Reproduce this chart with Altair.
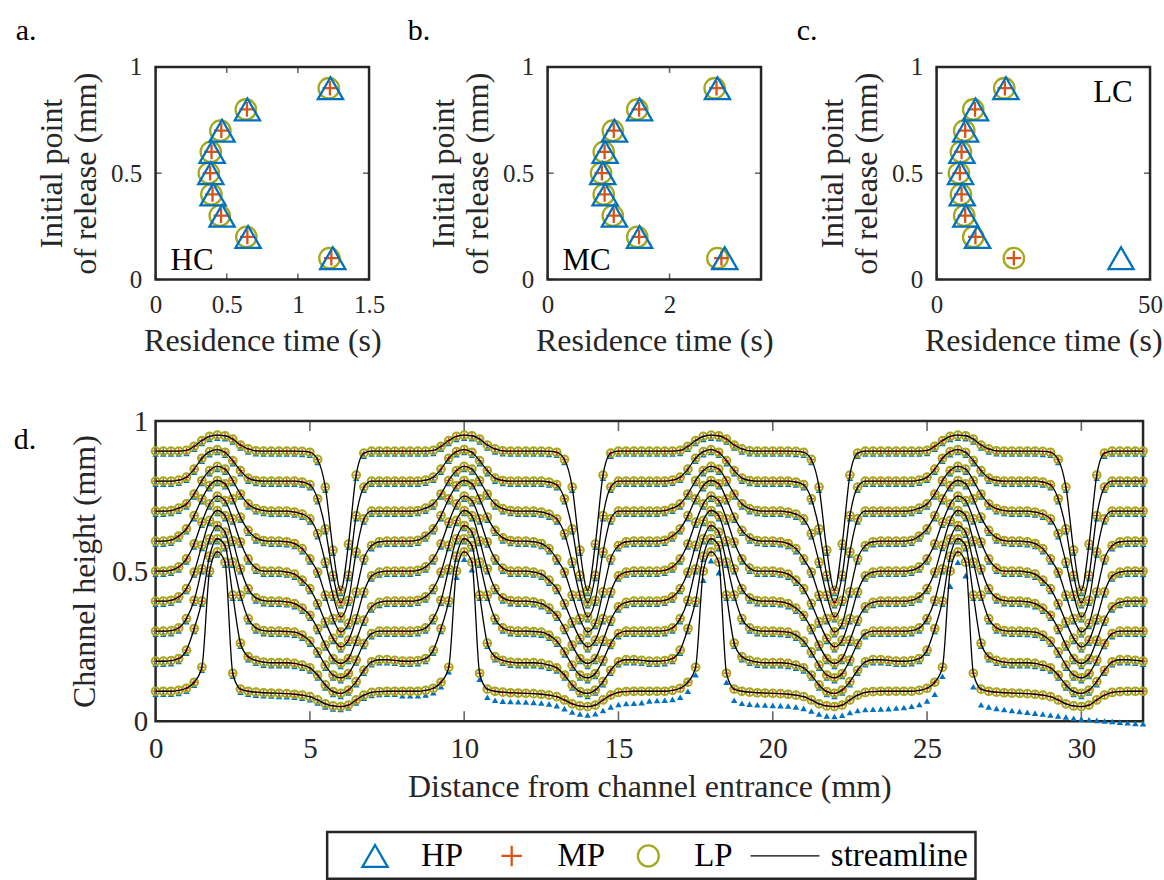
import altair as alt
import pandas as pd

FONT = "Liberation Serif"
INK = "#262626"
BLUE = "#0072BD"
ORANGE = "#D95319"
OLIVE = "#A4A81C"
PLUS = "M-1,0L1,0M0,-1L0,1"

# ---------------- panels a-c: residence time vs release point ----------------
release = [0.1, 0.2, 0.3, 0.4, 0.5, 0.6, 0.7, 0.8, 0.9]

hc_hp = [1.245, 0.650, 0.467, 0.404, 0.388, 0.397, 0.467, 0.645, 1.229]
hc_mp = [1.235, 0.645, 0.460, 0.400, 0.383, 0.393, 0.462, 0.642, 1.225]
hc_lp = [1.222, 0.638, 0.451, 0.392, 0.374, 0.388, 0.455, 0.634, 1.217]

mc_hp = [2.905, 1.508, 1.096, 0.943, 0.904, 0.943, 1.096, 1.508, 2.785]
mc_mp = [2.850, 1.500, 1.085, 0.935, 0.890, 0.935, 1.085, 1.500, 2.770]
mc_lp = [2.785, 1.470, 1.069, 0.921, 0.877, 0.921, 1.069, 1.470, 2.740]

lc_hp = [43.2, 9.60, 6.86, 6.00, 5.62, 5.93, 6.80, 9.13, 16.24]
lc_mp = [18.1, 9.10, 6.70, 5.85, 5.45, 5.85, 6.70, 9.00, 16.00]
lc_lp = [18.1, 8.58, 6.47, 5.70, 5.23, 5.70, 6.47, 8.58, 15.85]

y_ticks = [0, 0.5, 1]
a_xticks = [0, 0.5, 1, 1.5]
b_xticks = [0, 2]
c_xticks = [0, 50]

# ---------------- panel d: streamlines through the channel ----------------
# sample positions inside one 8 mm period of the channel (mm)
period_x = [0, 0.25, 0.5, 0.75, 1, 1.25, 1.5, 1.75, 2, 2.25, 2.5, 2.75,
            3, 3.25, 3.5, 3.75, 4, 4.25, 4.5, 4.75, 5, 5.25, 5.5, 5.75,
            6, 6.25, 6.5, 6.75, 7, 7.25, 7.5, 7.75]
period_starts = [0, 8, 16, 24]
channel_end = 32

s09 = [0.900, 0.900, 0.900, 0.900, 0.902, 0.916, 0.935, 0.949, 0.953, 0.951, 0.940, 0.920,
       0.907, 0.901, 0.900, 0.900, 0.900, 0.900, 0.900, 0.899, 0.896, 0.872, 0.780, 0.570,
       0.436, 0.590, 0.820, 0.893, 0.900, 0.900, 0.900, 0.900]
s08 = [0.800, 0.800, 0.800, 0.803, 0.813, 0.840, 0.876, 0.898, 0.905, 0.896, 0.868, 0.835,
       0.810, 0.802, 0.800, 0.800, 0.800, 0.800, 0.800, 0.797, 0.788, 0.741, 0.641, 0.486,
       0.395, 0.486, 0.685, 0.780, 0.800, 0.800, 0.800, 0.800]
s07 = [0.700, 0.700, 0.702, 0.710, 0.724, 0.757, 0.802, 0.835, 0.849, 0.840, 0.802, 0.757,
       0.724, 0.708, 0.702, 0.700, 0.700, 0.700, 0.697, 0.690, 0.674, 0.625, 0.530, 0.420,
       0.348, 0.403, 0.564, 0.674, 0.700, 0.700, 0.700, 0.700]
s06 = [0.600, 0.600, 0.603, 0.617, 0.641, 0.685, 0.741, 0.785, 0.802, 0.791, 0.741, 0.680,
       0.636, 0.611, 0.602, 0.600, 0.600, 0.598, 0.592, 0.575, 0.541, 0.497, 0.420, 0.342,
       0.298, 0.326, 0.431, 0.541, 0.585, 0.598, 0.600, 0.600]
s05 = [0.500, 0.500, 0.503, 0.514, 0.541, 0.591, 0.663, 0.724, 0.750, 0.735, 0.674, 0.597,
       0.541, 0.510, 0.500, 0.500, 0.500, 0.497, 0.490, 0.470, 0.442, 0.392, 0.331, 0.276,
       0.248, 0.270, 0.342, 0.431, 0.484, 0.497, 0.500, 0.500]
s04 = [0.400, 0.400, 0.403, 0.414, 0.442, 0.497, 0.586, 0.669, 0.702, 0.685, 0.602, 0.508,
       0.442, 0.411, 0.402, 0.400, 0.400, 0.398, 0.392, 0.377, 0.353, 0.309, 0.254, 0.209,
       0.193, 0.209, 0.270, 0.337, 0.381, 0.396, 0.400, 0.400]
s03 = [0.300, 0.300, 0.302, 0.311, 0.342, 0.403, 0.508, 0.608, 0.652, 0.630, 0.530, 0.420,
       0.342, 0.311, 0.302, 0.300, 0.300, 0.299, 0.297, 0.287, 0.267, 0.231, 0.187, 0.154,
       0.145, 0.159, 0.204, 0.259, 0.292, 0.300, 0.300, 0.300]
s02 = [0.200, 0.200, 0.202, 0.209, 0.237, 0.309, 0.400, 0.550, 0.608, 0.585, 0.420, 0.260,
       0.215, 0.203, 0.197, 0.195, 0.195, 0.195, 0.193, 0.187, 0.178, 0.154, 0.121, 0.099,
       0.093, 0.104, 0.132, 0.170, 0.198, 0.205, 0.205, 0.203]
s01 = [0.100, 0.100, 0.100, 0.103, 0.110, 0.130, 0.180, 0.500, 0.564, 0.530, 0.160, 0.107,
       0.100, 0.097, 0.095, 0.094, 0.093, 0.092, 0.090, 0.087, 0.082, 0.071, 0.058, 0.051,
       0.049, 0.054, 0.071, 0.087, 0.096, 0.099, 0.100, 0.100]
streamlines = [s01, s02, s03, s04, s05, s06, s07, s08, s09]

# HP particles released at 0.1 mm drift towards the wall after the first period
hp01_p2 = [0.095, 0.095, 0.095, 0.098, 0.105, 0.125, 0.175, 0.490, 0.550, 0.515, 0.150, 0.090,
           0.080, 0.077, 0.076, 0.075, 0.074, 0.073, 0.071, 0.068, 0.062, 0.052, 0.041, 0.034,
           0.031, 0.035, 0.046, 0.058, 0.066, 0.069, 0.070, 0.072]
hp01_p3 = [0.078, 0.079, 0.080, 0.083, 0.090, 0.110, 0.165, 0.480, 0.545, 0.505, 0.140, 0.080,
           0.070, 0.067, 0.065, 0.064, 0.063, 0.062, 0.061, 0.058, 0.053, 0.044, 0.034, 0.028,
           0.026, 0.030, 0.039, 0.046, 0.049, 0.050, 0.051, 0.052]
hp01_p4 = [0.054, 0.056, 0.060, 0.066, 0.078, 0.100, 0.160, 0.460, 0.540, 0.495, 0.125, 0.065,
           0.058, 0.053, 0.049, 0.046, 0.043, 0.040, 0.037, 0.034, 0.031, 0.028, 0.024, 0.020,
           0.017, 0.015, 0.013, 0.011, 0.009, 0.007, 0.005, 0.003]
hp01_end = 0.002

d_xticks = [0, 5, 10, 15, 20, 25, 30]

legend_labels = ["HP", "MP", "LP", "streamline"]


# ---------------- helpers ----------------
def long_table(hp, mp, lp):
    rows = []
    for s, vals in (("HP", hp), ("MP", mp), ("LP", lp)):
        for y, t in zip(release, vals):
            rows.append({"s": s, "t": t, "y": y})
    return pd.DataFrame(rows)


def inner_ticks(xs, ys, xdom, xticks, ydom, yticks, xax, yax, length, xf="t", yf="y"):
    xt = alt.Chart(pd.DataFrame({xf: xticks}))
    yt = alt.Chart(pd.DataFrame({yf: yticks}))
    kw = dict(color=INK, thickness=1.6, size=length)
    return [
        xt.mark_tick(orient="vertical", yOffset=-length / 2, **kw).encode(
            x=alt.X(f"{xf}:Q", scale=xs, axis=xax), y=alt.datum(ydom[0])),
        xt.mark_tick(orient="vertical", yOffset=length / 2, **kw).encode(
            x=alt.X(f"{xf}:Q", scale=xs, axis=xax), y=alt.datum(ydom[1])),
        yt.mark_tick(orient="horizontal", xOffset=length / 2, **kw).encode(
            y=alt.Y(f"{yf}:Q", scale=ys, axis=yax), x=alt.datum(xdom[0])),
        yt.mark_tick(orient="horizontal", xOffset=-length / 2, **kw).encode(
            y=alt.Y(f"{yf}:Q", scale=ys, axis=yax), x=alt.datum(xdom[1])),
    ]


def top_panel(letter, tag, tag_x, tag_y, hp, mp, lp, xdom, xticks):
    df = long_table(hp, mp, lp)
    xs = alt.Scale(domain=xdom, nice=False, zero=False)
    ys = alt.Scale(domain=[0, 1], nice=False, zero=False)
    xax = alt.Axis(values=xticks, format=".2~f", title="Residence time (s)", labelFontSize=25,
                   labelPadding=13, titlePadding=8, labelFlush=False)
    yax = alt.Axis(values=y_ticks, format=".2~f", title=["Initial point", "of release (mm)"],
                   labelFontSize=25, labelPadding=14, titlePadding=8, labelFlush=False)
    base = alt.Chart(df)
    enc = dict(x=alt.X("t:Q", scale=xs, axis=xax), y=alt.Y("y:Q", scale=ys, axis=yax))
    cir = base.transform_filter("datum.s == 'LP'").mark_point(
        shape="circle", size=420, color=OLIVE, strokeWidth=2.3, filled=False, opacity=1).encode(**enc)
    plus = base.transform_filter("datum.s == 'MP'").mark_point(
        shape=PLUS, size=220, color=ORANGE, strokeWidth=2.3, filled=False, opacity=1).encode(**enc)
    tri = base.transform_filter("datum.s == 'HP'").mark_point(
        shape="triangle-up", size=640, color=BLUE, strokeWidth=2.3, filled=False, opacity=1).encode(**enc)
    txt = alt.Chart(pd.DataFrame({"tag": [tag]})).mark_text(
        font=FONT, fontSize=31, color="black", align="left", baseline="alphabetic").encode(
        text="tag:N", x=alt.value(tag_x), y=alt.value(tag_y))
    layers = inner_ticks(xs, ys, xdom, xticks, [0, 1], y_ticks, xax, yax, 6) + [cir, plus, tri, txt]
    return alt.layer(*layers).properties(
        width=214, height=213,
        title=alt.TitleParams(letter, anchor="start", frame="bounds", font=FONT, fontSize=30,
                              fontWeight="normal", color="black", dx=-20, offset=9))


a = top_panel("a.", "HC", 15, 204, hc_hp, hc_mp, hc_lp, [0, 1.5], a_xticks)
b = top_panel("b.", "MC", 15, 204, mc_hp, mc_mp, mc_lp, [0, 3.5], b_xticks)
c = top_panel("c.", "LC", 157, 35, lc_hp, lc_mp, lc_lp, [0, 50], c_xticks)

# ---------- panel d ----------
line_rows = []
hp_rows = []
hp01_periods = [s01, hp01_p2, hp01_p3, hp01_p4]
for li, prof in enumerate(streamlines):
    for pi, x0 in enumerate(period_starts):
        hp_prof = hp01_periods[pi] if li == 0 else prof
        for j, dx in enumerate(period_x):
            line_rows.append({"line": li, "x": x0 + dx, "y": prof[j]})
            hp_rows.append({"line": li, "x": x0 + dx, "y": hp_prof[j]})
    line_rows.append({"line": li, "x": channel_end, "y": prof[0]})
    hp_rows.append({"line": li, "x": channel_end, "y": hp01_end if li == 0 else prof[0]})

lines_df = pd.DataFrame(line_rows)
hp_df = pd.DataFrame(hp_rows)

xs_d = alt.Scale(domain=[0, channel_end], nice=False, zero=False)
ys_d = alt.Scale(domain=[0, 1], nice=False, zero=False)
xax_d = alt.Axis(values=d_xticks, format=".2~f", title="Distance from channel entrance (mm)",
                 labelFontSize=29, labelPadding=13, titlePadding=8, labelFlush=False)
yax_d = alt.Axis(values=y_ticks, format=".2~f", title="Channel height (mm)",
                 labelFontSize=29, labelPadding=8, titlePadding=10, labelFlush=False)
enc_d = dict(x=alt.X("x:Q", scale=xs_d, axis=xax_d), y=alt.Y("y:Q", scale=ys_d, axis=yax_d))

hp_pts = alt.Chart(hp_df).mark_point(shape="triangle-up", filled=True, size=42, color=BLUE,
                                     opacity=1, yOffset=3).encode(**enc_d)
mp_pts = alt.Chart(lines_df).mark_point(shape=PLUS, filled=False, size=30, color=ORANGE,
                                        strokeWidth=1.4, opacity=1).encode(**enc_d)
lp_pts = alt.Chart(lines_df).mark_point(shape="circle", filled=False, size=60, color=OLIVE,
                                        strokeWidth=2.0, opacity=1).encode(**enc_d)
stream = alt.Chart(lines_df).mark_line(color="black", strokeWidth=1.3, interpolate="monotone").encode(
    detail="line:N", **enc_d)

d = alt.layer(
    *inner_ticks(xs_d, ys_d, [0, channel_end], d_xticks, [0, 1], y_ticks, xax_d, yax_d, 10,
                 xf="x", yf="y"),
    hp_pts, mp_pts, lp_pts, stream
).properties(
    width=990, height=301,
    title=alt.TitleParams("d.", anchor="start", frame="bounds", font=FONT, fontSize=30,
                          fontWeight="normal", color="black", dx=-55, dy=48, offset=0))

# ---------- legend ----------
leg_df = pd.DataFrame({"label": legend_labels})
lx = alt.X("label:N", scale=alt.Scale(domain=legend_labels, range=[48, 459], padding=0), axis=None)
ly = alt.value(24)
leg_base = alt.Chart(leg_df)
leg = alt.layer(
    leg_base.transform_filter("datum.label == 'HP'").mark_point(
        shape="triangle-up", size=640, color=BLUE, strokeWidth=2.3, filled=False, opacity=1).encode(x=lx, y=ly),
    leg_base.transform_filter("datum.label == 'MP'").mark_point(
        shape=PLUS, size=420, color=ORANGE, strokeWidth=2.3, filled=False, opacity=1).encode(x=lx, y=ly),
    leg_base.transform_filter("datum.label == 'LP'").mark_point(
        shape="circle", size=440, color=OLIVE, strokeWidth=2.3, filled=False, opacity=1).encode(x=lx, y=ly),
    leg_base.transform_filter("datum.label == 'streamline'").mark_point(
        shape="stroke", size=4761, color="black", strokeWidth=1.3, filled=False, opacity=1).encode(x=lx, y=ly),
    leg_base.mark_text(font=FONT, fontSize=33, color="black", align="left", baseline="middle", dx=46).encode(
        x=lx, y=ly, text="label:N"),
).properties(width=650, height=47)

spacer = alt.Chart(pd.DataFrame({"v": [0]})).mark_point(opacity=0).encode(
    x=alt.value(0), y=alt.value(0)).properties(width=148, height=47, view=alt.ViewBackground(stroke="transparent"))

top_row = alt.hconcat(a, b, c, spacing=20)
main = alt.vconcat(top_row, d, spacing=47)
legend_row = alt.hconcat(spacer, leg, spacing=20)

chart = alt.vconcat(main, legend_row, spacing=24).properties(
    padding={"left": 12, "top": 13, "right": 0, "bottom": 0}
).configure_view(stroke=INK, strokeWidth=2.5).configure_axis(
    labelFont=FONT, titleFont=FONT, labelFontSize=25, titleFontSize=32,
    labelColor=INK, titleColor=INK, titleFontWeight="normal",
    domain=False, ticks=False, grid=False
)

chart.save("out.html", embed_options={"renderer": "svg", "actions": False})
